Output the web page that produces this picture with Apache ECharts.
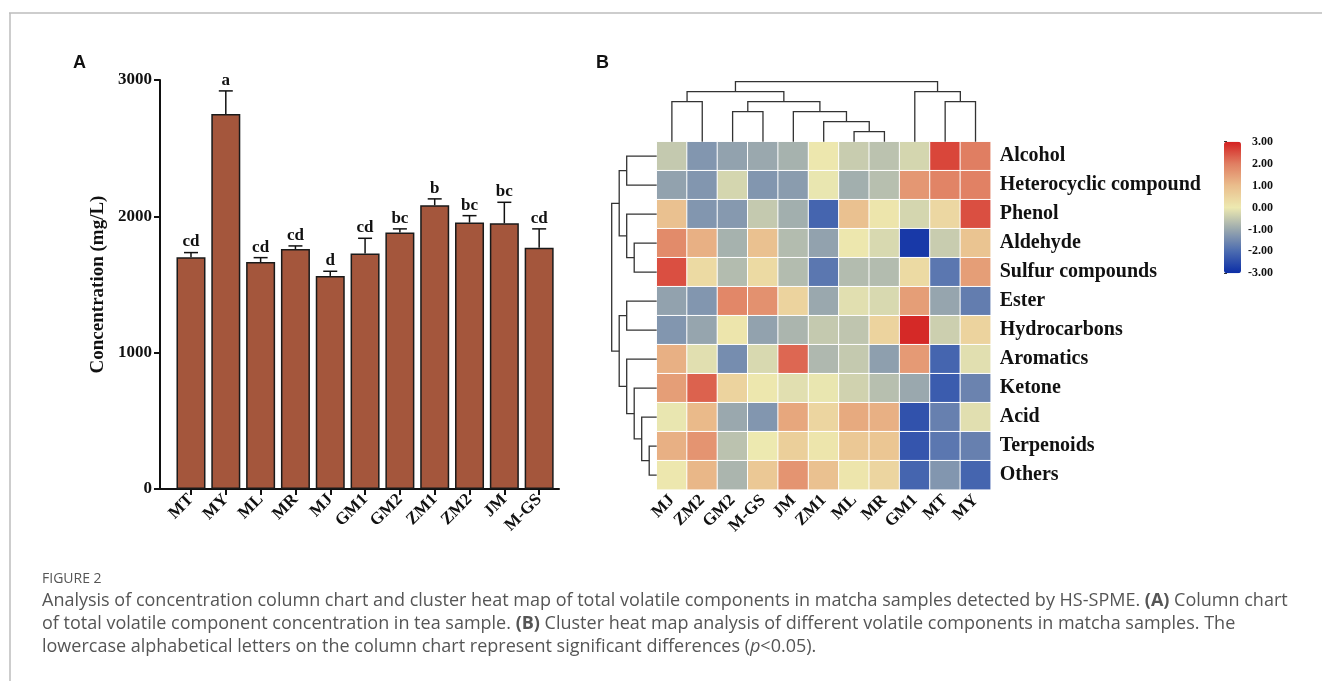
<!DOCTYPE html>
<html>
<head>
<meta charset="utf-8">
<script src="https://cdn.jsdelivr.net/npm/echarts@6/dist/echarts.min.js"></script>
<style>
  html, body { margin: 0; padding: 0; background: #fff; }
  #main { width: 1322px; height: 681px; }
</style>
</head>
<body>
<div id="main"></div>
<script>
// ---- panel A: total volatile concentration (mg/L) ----
const samples = ['MT', 'MY', 'ML', 'MR', 'MJ', 'GM1', 'GM2', 'ZM1', 'ZM2', 'JM', 'M-GS'];
const concMean = [1700, 2750, 1665, 1760, 1563, 1727, 1881, 2081, 1954, 1949, 1770];
const concUpper = [1734, 2920, 1697, 1783, 1597, 1839, 1908, 2128, 2005, 2103, 1908];
const sigLetters = ['cd', 'a', 'cd', 'cd', 'd', 'cd', 'bc', 'b', 'bc', 'bc', 'cd'];

// ---- panel B: z-scores, columns in clustered order ----
const heatCols = ['MJ', 'ZM2', 'GM2', 'M-GS', 'JM', 'ZM1', 'ML', 'MR', 'GM1', 'MT', 'MY'];
const heatRows = ['Alcohol', 'Heterocyclic compound', 'Phenol', 'Aldehyde', 'Sulfur compounds',
  'Ester', 'Hydrocarbons', 'Aromatics', 'Ketone', 'Acid', 'Terpenoids', 'Others'];

const zAlcohol      = [-0.5, -1.3, -1.1, -1.0, -0.85, 0.05, -0.45, -0.6, -0.3, 2.6, 2.0];
const zHeterocyclic = [-1.1, -1.3, -0.3, -1.3, -1.2, -0.05, -0.9, -0.65, 1.6, 1.9, 1.95];
const zPhenol       = [0.9, -1.3, -1.25, -0.5, -0.9, -2.1, 0.9, 0.1, -0.3, 0.4, 2.5];
const zAldehyde     = [1.8, 1.2, -0.85, 0.9, -0.7, -1.1, 0.05, -0.25, -2.8, -0.45, 0.85];
const zSulfur       = [2.5, 0.35, -0.7, 0.35, -0.7, -1.8, -0.7, -0.7, 0.35, -1.8, 1.5];
const zEster        = [-1.1, -1.3, 1.85, 1.7, 0.5, -1.0, -0.15, -0.25, 1.5, -1.05, -1.7];
const zHydrocarbons = [-1.3, -1.05, 0.1, -1.1, -0.8, -0.5, -0.55, 0.5, 2.9, -0.4, 0.5];
const zAromatics    = [1.2, -0.15, -1.45, -0.25, 2.25, -0.75, -0.5, -1.15, 1.55, -2.1, -0.15];
const zKetone       = [1.5, 2.3, 0.5, 0.05, -0.15, -0.05, -0.35, -0.65, -1.0, -2.25, -1.6];
const zAcid         = [-0.05, 1.05, -1.0, -1.3, 1.35, 0.45, 1.3, 1.2, -2.4, -1.65, -0.15];
const zTerpenoids   = [1.2, 1.65, -0.6, 0.0, 0.6, 0.1, 0.75, 0.8, -2.35, -1.8, -1.65];
const zOthers       = [0.05, 1.1, -0.8, 0.75, 1.65, 0.9, 0.1, 0.45, -2.1, -1.3, -2.1];
const heatValues = [zAlcohol, zHeterocyclic, zPhenol, zAldehyde, zSulfur, zEster,
  zHydrocarbons, zAromatics, zKetone, zAcid, zTerpenoids, zOthers];

// dendrogram merges: [childA, childB, height]; ids past the leaves are earlier merges
const colLinkage = [
  [6, 7, 1], [5, 11, 2], [4, 12, 3], [2, 3, 3], [0, 1, 4],
  [14, 13, 4], [9, 10, 4], [15, 16, 5], [8, 17, 5], [18, 19, 6]
];
const rowLinkage = [
  [10, 11, 1], [9, 12, 2], [8, 13, 3], [7, 14, 4], [5, 6, 4], [16, 15, 5],
  [3, 4, 3], [2, 18, 4], [0, 1, 4], [20, 19, 5], [21, 17, 6]
];

const scaleColors = ['#0b2da6', '#4b6bb0', '#9aa8ae', '#ede9b0', '#eabd8c', '#e07e62', '#d42020'];

const SERIF = "'Times New Roman', 'Liberation Serif', serif";
const SANS = "Arial, 'Liberation Sans', sans-serif";
const CAPTION = "'Open Sans', sans-serif";

// turn a linkage into segments [posA, hA, posB, hB, h]
function dendroSegments(nLeaves, linkage) {
  const pos = [];
  const hgt = [];
  for (let i = 0; i < nLeaves; i++) { pos.push(i); hgt.push(0); }
  const segs = [];
  linkage.forEach(function (m) {
    const a = m[0], b = m[1], h = m[2];
    segs.push([pos[a], hgt[a], pos[b], hgt[b], h]);
    pos.push((pos[a] + pos[b]) / 2);
    hgt.push(h);
  });
  return segs;
}

const heatData = [];
heatValues.forEach(function (row, r) {
  row.forEach(function (v, c) { heatData.push([c, r, v]); });
});

const sampleIdx = samples.map(function (s, i) { return i; });
const lineStyle = { stroke: '#333', lineWidth: 1.3, fill: null };

const chart = echarts.init(document.getElementById('main'));

chart.setOption({
  animation: false,
  backgroundColor: '#fff',
  grid: [
    { left: 160, top: 80, width: 399, height: 409 },
    { left: 656.7, top: 141.7, width: 334, height: 348 },
    { left: 656.7, top: 81.7, width: 334, height: 60 },
    { left: 611.7, top: 141.7, width: 45, height: 348 },
    { left: 1224, top: 141.7, width: 17, height: 131.6 }
  ],
  xAxis: [
    {
      gridIndex: 0, type: 'value', min: -0.89, max: 10.57,
      splitLine: { show: false },
      axisLine: { show: true, onZero: false, lineStyle: { color: '#111', width: 2 } },
      axisTick: { show: true, length: 6, customValues: sampleIdx,
        lineStyle: { color: '#111', width: 2 } },
      axisLabel: {
        customValues: sampleIdx,
        formatter: function (v) { return samples[Math.round(v)]; },
        rotate: 45, margin: 8, color: '#111',
        fontFamily: SERIF, fontWeight: 'bold', fontSize: 17
      }
    },
    {
      gridIndex: 1, type: 'category', data: heatCols,
      axisLine: { show: false }, axisTick: { show: false },
      axisLabel: { interval: 0, rotate: 45, margin: 8, color: '#111',
        fontFamily: SERIF, fontWeight: 'bold', fontSize: 17 }
    },
    { gridIndex: 2, type: 'value', min: -0.5, max: 10.5, show: false },
    { gridIndex: 3, type: 'value', min: 0, max: 6, inverse: true, show: false },
    { gridIndex: 4, type: 'value', show: false }
  ],
  yAxis: [
    {
      gridIndex: 0, type: 'value', min: 0, max: 3000, interval: 1000,
      splitLine: { show: false },
      axisLine: { show: true, onZero: false, lineStyle: { color: '#111', width: 2 } },
      axisTick: { show: true, length: 6, lineStyle: { color: '#111', width: 2 } },
      axisLabel: { margin: 8, color: '#111', fontFamily: SERIF, fontWeight: 'bold', fontSize: 17,
        formatter: function (v) { return String(v); } },
      name: 'Concentration (mg/L)', nameLocation: 'middle', nameGap: 52,
      nameTextStyle: { color: '#111', fontFamily: SERIF, fontWeight: 'bold', fontSize: 19 }
    },
    {
      gridIndex: 1, type: 'category', data: heatRows, inverse: true, position: 'right',
      axisLine: { show: false }, axisTick: { show: false },
      axisLabel: { interval: 0, margin: 9, color: '#111', fontFamily: SERIF, fontWeight: 'bold', fontSize: 20 }
    },
    { gridIndex: 2, type: 'value', min: 0, max: 6, show: false },
    { gridIndex: 3, type: 'value', min: -0.5, max: 11.5, inverse: true, show: false },
    {
      gridIndex: 4, type: 'value', min: -3, max: 3, interval: 1, position: 'right',
      splitLine: { show: false },
      axisLine: { show: false },
      axisTick: { show: true, length: 3, lineStyle: { color: '#333', width: 1 } },
      axisLabel: { align: 'right', margin: 32, color: '#111',
        fontFamily: SERIF, fontWeight: 'bold', fontSize: 12,
        formatter: function (v) { return v.toFixed(2); } }
    }
  ],
  visualMap: {
    type: 'continuous', seriesIndex: 2, min: -3, max: 3,
    calculable: false, orient: 'vertical',
    left: 1224, top: 141.7, itemWidth: 17, itemHeight: 131.6, padding: 0,
    inRange: { color: scaleColors },
    textStyle: { color: 'transparent' }
  },
  series: [
    {
      type: 'bar', xAxisIndex: 0, yAxisIndex: 0,
      data: concMean.map(function (v, i) { return [i, v]; }),
      barWidth: 29,
      itemStyle: { color: '#a4563c', borderColor: '#1a1a1a', borderWidth: 1.5 }
    },
    {
      type: 'custom', xAxisIndex: 0, yAxisIndex: 0, z: 3,
      data: concMean.map(function (v, i) { return [i, v, concUpper[i]]; }),
      renderItem: function (params, api) {
        const x = api.value(0);
        const lo = api.coord([x, api.value(1)]);
        const hi = api.coord([x, api.value(2)]);
        return {
          type: 'group',
          children: [
            { type: 'line', shape: { x1: lo[0], y1: lo[1], x2: hi[0], y2: hi[1] },
              style: { stroke: '#111', lineWidth: 1.5 } },
            { type: 'line', shape: { x1: hi[0] - 7, y1: hi[1], x2: hi[0] + 7, y2: hi[1] },
              style: { stroke: '#111', lineWidth: 1.5 } },
            { type: 'text', x: hi[0], y: hi[1] - 2,
              style: { text: sigLetters[params.dataIndex], fill: '#111',
                font: 'bold 17px ' + SERIF, textAlign: 'center', textVerticalAlign: 'bottom' } }
          ]
        };
      }
    },
    {
      type: 'heatmap', xAxisIndex: 1, yAxisIndex: 1,
      data: heatData,
      itemStyle: { borderColor: '#fff', borderWidth: 1 }
    },
    {
      type: 'custom', xAxisIndex: 2, yAxisIndex: 2,
      data: dendroSegments(heatCols.length, colLinkage),
      renderItem: function (params, api) {
        const p = [
          api.coord([api.value(0), api.value(1)]),
          api.coord([api.value(0), api.value(4)]),
          api.coord([api.value(2), api.value(4)]),
          api.coord([api.value(2), api.value(3)])
        ];
        return { type: 'polyline', shape: { points: p }, style: lineStyle };
      }
    },
    {
      type: 'custom', xAxisIndex: 3, yAxisIndex: 3,
      data: dendroSegments(heatRows.length, rowLinkage),
      renderItem: function (params, api) {
        const p = [
          api.coord([api.value(1), api.value(0)]),
          api.coord([api.value(4), api.value(0)]),
          api.coord([api.value(4), api.value(2)]),
          api.coord([api.value(3), api.value(2)])
        ];
        return { type: 'polyline', shape: { points: p }, style: lineStyle };
      }
    }
  ],
  graphic: [
    // page frame
    { type: 'line', shape: { x1: 9, y1: 13, x2: 1322, y2: 13 }, style: { stroke: '#bdbdbd', lineWidth: 1.5 } },
    { type: 'line', shape: { x1: 10, y1: 13, x2: 10, y2: 681 }, style: { stroke: '#bdbdbd', lineWidth: 1.5 } },
    // panel letters
    { type: 'text', x: 73, y: 63, style: { text: 'A', font: 'bold 18px ' + SANS, fill: '#111', textVerticalAlign: 'middle' } },
    { type: 'text', x: 596, y: 63, style: { text: 'B', font: 'bold 18px ' + SANS, fill: '#111', textVerticalAlign: 'middle' } },
    // caption
    { type: 'text', x: 42, y: 579, style: { text: 'FIGURE 2', font: '14px ' + CAPTION, fill: '#555', textVerticalAlign: 'middle' } },
    { type: 'text', x: 42, y: 601, style: {
      text: 'Analysis of concentration column chart and cluster heat map of total volatile components in matcha samples detected by HS-SPME. {b|(A)} Column chart',
      font: '18px ' + CAPTION, fill: '#555', textVerticalAlign: 'middle',
      rich: { b: { fontFamily: CAPTION, fontSize: 18, fontWeight: 'bold', fill: '#555' } } } },
    { type: 'text', x: 42, y: 624, style: {
      text: 'of total volatile component concentration in tea sample. {b|(B)} Cluster heat map analysis of different volatile components in matcha samples. The',
      font: '18px ' + CAPTION, fill: '#555', textVerticalAlign: 'middle',
      rich: { b: { fontFamily: CAPTION, fontSize: 18, fontWeight: 'bold', fill: '#555' } } } },
    { type: 'text', x: 42, y: 647, style: {
      text: 'lowercase alphabetical letters on the column chart represent significant differences ({i|p}<0.05).',
      font: '18px ' + CAPTION, fill: '#555', textVerticalAlign: 'middle',
      rich: { i: { fontFamily: CAPTION, fontSize: 18, fontStyle: 'italic', fill: '#555' } } } }
  ]
});
</script>
</body>
</html>
